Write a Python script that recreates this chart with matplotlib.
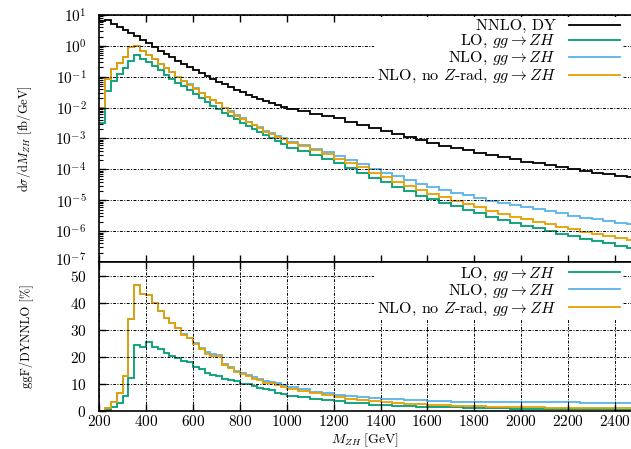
import matplotlib
matplotlib.use('Agg')
import matplotlib.pyplot as plt
import matplotlib.transforms as mtrans
import numpy as np

# bin edges: 25 GeV up to 1 TeV, 50 GeV above
edges_low = [200, 225, 250, 275, 300, 325, 350, 375, 400, 425, 450, 475, 500, 525, 550, 575,
             600, 625, 650, 675, 700, 725, 750, 775, 800, 825, 850, 875, 900, 925, 950, 975, 1000]
edges_high = [1050, 1100, 1150, 1200, 1250, 1300, 1350, 1400, 1450, 1500, 1550, 1600, 1650, 1700,
              1750, 1800, 1850, 1900, 1950, 2000, 2050, 2100, 2150, 2200, 2250, 2300, 2350, 2400,
              2450, 2500]

# dsigma/dM [fb/GeV]
nnlo_dy = [6.5, 7.08, 5.25, 4.17, 3.31, 2.63, 2.09, 1.58, 1.20, 0.933, 0.708, 0.537, 0.427, 0.331,
           0.263, 0.209, 0.166, 0.132, 0.105, 0.0851, 0.0692, 0.0562, 0.0457, 0.0380, 0.0316,
           0.0263, 0.0224, 0.0191, 0.0162, 0.0138, 0.0120, 0.0105,
           8.91e-3, 7.59e-3, 6.31e-3, 5.37e-3, 4.47e-3, 3.55e-3, 2.82e-3, 2.19e-3, 1.74e-3, 1.38e-3,
           1.10e-3, 8.71e-4, 7.08e-4, 5.89e-4, 4.90e-4, 4.17e-4, 3.47e-4, 2.88e-4, 2.45e-4, 2.09e-4,
           1.78e-4, 1.55e-4, 1.35e-4, 1.15e-4, 1.00e-4, 8.71e-5, 7.76e-5, 6.92e-5, 6.17e-5, 5.62e-5]
lo_gg = [0.00325, 0.0354, 0.0735, 0.121, 0.189, 0.323, 0.508, 0.374, 0.306, 0.221, 0.162, 0.114,
         0.0867, 0.0645, 0.0489, 0.0376, 0.0272, 0.0205, 0.0147, 0.0112, 0.00900, 0.00674,
         0.00521, 0.00418, 0.00319, 0.00258, 0.00206, 0.00160, 0.00130, 0.00105, 0.000816, 0.000672,
         4.99e-4, 3.80e-4, 2.84e-4, 2.15e-4, 1.61e-4, 1.07e-4, 7.90e-5, 5.26e-5, 3.83e-5, 2.76e-5,
         1.98e-5, 1.39e-5, 1.06e-5, 8.25e-6, 6.37e-6, 5.00e-6, 3.82e-6, 2.88e-6, 2.33e-6, 1.88e-6,
         1.51e-6, 1.24e-6, 1.01e-6, 8.05e-7, 7.00e-7, 5.66e-7, 4.66e-7, 4.15e-7, 3.39e-7, 2.81e-7]
nlo_gg = [0.00975, 0.085, 0.173, 0.275, 0.424, 0.894, 0.974, 0.684, 0.512, 0.373, 0.262, 0.185,
          0.138, 0.101, 0.0747, 0.0564, 0.0418, 0.0308, 0.0227, 0.0178, 0.0144, 0.00967, 0.00749,
          0.00562, 0.00449, 0.00350, 0.00282, 0.00229, 0.00178, 0.00149, 0.00122, 0.00101,
          7.84e-4, 6.07e-4, 4.54e-4, 3.54e-4, 2.68e-4, 1.99e-4, 1.47e-4, 1.03e-4, 7.83e-5, 5.93e-5,
          4.51e-5, 3.48e-5, 2.69e-5, 2.12e-5, 1.72e-5, 1.46e-5, 1.18e-5, 9.79e-6, 8.33e-6, 7.11e-6,
          6.05e-6, 5.27e-6, 4.46e-6, 3.80e-6, 3.20e-6, 2.70e-6, 2.41e-6, 2.08e-6, 1.85e-6, 1.69e-6]
nlo_norad_gg = [0.00975, 0.085, 0.173, 0.275, 0.424, 0.894, 0.974, 0.684, 0.512, 0.373, 0.262, 0.185,
                0.138, 0.101, 0.0742, 0.0560, 0.0412, 0.0301, 0.0221, 0.0174, 0.0141, 0.00944,
                0.00731, 0.00547, 0.00436, 0.00337, 0.00269, 0.00218, 0.00168, 0.00141, 0.00115,
                0.000945,
                7.31e-4, 5.62e-4, 4.16e-4, 3.22e-4, 2.24e-4, 1.60e-4, 1.18e-4, 7.88e-5, 5.74e-5,
                4.00e-5, 2.97e-5, 2.18e-5, 1.56e-5, 1.24e-5, 9.80e-6, 7.51e-6, 5.90e-6, 4.61e-6,
                3.68e-6, 2.93e-6, 2.40e-6, 2.02e-6, 1.69e-6, 1.38e-6, 1.15e-6, 9.58e-7, 8.15e-7,
                6.92e-7, 6.17e-7, 5.34e-7]

# ratio ggF / DY NNLO [%]
ratio_lo = [0.05, 0.5, 1.4, 2.9, 5.7, 12.3, 24.3, 23.7, 25.5, 23.7, 22.9, 21.3, 20.3, 19.5, 18.6,
            18.0, 16.4, 15.5, 14.0, 13.2, 13.0, 12.0, 11.4, 11.0, 10.1, 9.8, 9.2, 8.4, 8.0, 7.6,
            6.8, 6.4,
            5.6, 5.0, 4.5, 4.0, 3.6, 3.0, 2.8, 2.4, 2.2, 2.0, 1.8, 1.6, 1.5, 1.4, 1.3, 1.2, 1.1,
            1.0, 0.95, 0.9, 0.85, 0.8, 0.75, 0.7, 0.7, 0.65, 0.6, 0.6, 0.55, 0.5]
ratio_nlo = [0.15, 1.2, 3.3, 6.6, 12.8, 34, 46.6, 43.3, 42.7, 40, 37, 34.5, 32.3, 30.5, 28.4, 27.0,
             25.2, 23.3, 21.6, 20.9, 20.8, 17.2, 16.4, 14.8, 14.2, 13.3, 12.6, 12.0, 11.0, 10.8,
             10.2, 9.6,
             8.8, 8.0, 7.2, 6.6, 6.0, 5.6, 5.2, 4.7, 4.5, 4.3, 4.1, 4.0, 3.8, 3.6, 3.5, 3.5, 3.4,
             3.4, 3.4, 3.4, 3.4, 3.4, 3.3, 3.3, 3.2, 3.1, 3.1, 3.0, 3.0, 3.0]
ratio_norad = [0.15, 1.2, 3.3, 6.6, 12.8, 34, 46.6, 43.3, 42.7, 40, 37, 34.5, 32.3, 30.5, 28.2,
               26.8, 24.8, 22.8, 21, 20.4, 20.4, 16.8, 16, 14.4, 13.8, 12.8, 12, 11.4, 10.4, 10.2,
               9.6, 9.0,
               8.2, 7.4, 6.6, 6.0, 5.0, 4.5, 4.2, 3.6, 3.3, 2.9, 2.7, 2.5, 2.2, 2.1, 2.0, 1.8, 1.7,
               1.6, 1.5, 1.4, 1.35, 1.3, 1.25, 1.2, 1.15, 1.1, 1.05, 1.0, 1.0, 0.95]

labels = ['NNLO, DY', r'LO, $gg \rightarrow ZH$', r'NLO, $gg \rightarrow ZH$',
          r'NLO, no $Z$-rad, $gg \rightarrow ZH$']
colors = ['black', '#009E73', '#56B4E9', '#E69F00']

plt.rcParams['font.family'] = 'cmr10'
plt.rcParams['mathtext.fontset'] = 'cm'
plt.rcParams['axes.formatter.use_mathtext'] = True
plt.rcParams['font.size'] = 12

edges = np.array(edges_low + edges_high)
grid_ls = (0, (3, 1.5, 1, 1.5))
leg_kw = dict(loc='upper right', markerfirst=False, frameon=True,
              fancybox=False, edgecolor='none', framealpha=1, fontsize=11.5,
              handlelength=3.2, handletextpad=0.8, labelspacing=0.0, borderpad=0.15,
              borderaxespad=0)

fig = plt.figure(figsize=(6.31, 4.49), dpi=100)
ax1 = fig.add_axes([0.157, 0.4165, 0.843, 0.5501])
ax2 = fig.add_axes([0.157, 0.0846, 0.843, 0.3319])

# upper panel
for vals, lab, col in zip([nnlo_dy, lo_gg, nlo_gg, nlo_norad_gg], labels, colors):
    ax1.stairs(vals, edges, baseline=None, color=col, lw=1.3, label=lab)
ax1.set_yscale('log')
ax1.set_ylim(1e-7, 10)
ax1.set_xlim(200, 2468)
ax1.set_yticks([10.0 ** k for k in range(-7, 2)])
ax1.yaxis.set_minor_locator(matplotlib.ticker.LogLocator(base=10, subs=np.arange(2, 10), numticks=20))
ax1.yaxis.set_minor_formatter(matplotlib.ticker.NullFormatter())
ax1.set_xticks(range(200, 2500, 200))
ax1.tick_params(labelbottom=False)
ax1.grid(True, axis='y', which='major', color='black', lw=0.7, ls=grid_ls)
ax1.set_ylabel(r'd$\sigma$/d$M_{ZH}$ [fb/GeV]', fontsize=9)
ax1.yaxis.set_label_coords(-0.122, 0.5)
ax1.legend(bbox_to_anchor=(0.986, 0.963), bbox_transform=fig.transFigure, **leg_kw)

# lower panel
for vals, lab, col in zip([ratio_lo, ratio_nlo, ratio_norad], labels[1:], colors[1:]):
    ax2.stairs(vals, edges, baseline=None, color=col, lw=1.3, label=lab)
ax2.set_ylim(0, 55)
ax2.set_xlim(200, 2468)
ax2.set_yticks(range(0, 51, 10))
ax2.set_xticks(range(200, 2500, 200))
ax2.grid(True, color='black', lw=0.7, ls=grid_ls)
ax2.set_ylabel('ggF/DYNNLO [%]', fontsize=9)
ax2.yaxis.set_label_coords(-0.122, 0.5)
ax2.set_xlabel(r'$M_{ZH}\;[\mathrm{GeV}]$', va='bottom', fontsize=10)
ax2.xaxis.set_label_coords(0.5, -0.252)
ax2.legend(bbox_to_anchor=(0.986, 0.414), bbox_transform=fig.transFigure, **leg_kw)

for ax in (ax1, ax2):
    ax.set_axisbelow(False)
    ax.spines['right'].set_visible(False)
    for s in ('left', 'top', 'bottom'):
        ax.spines[s].set_linewidth(1.2)
    ax.tick_params(which='both', direction='in', top=True, right=False)
    ax.tick_params(which='major', length=5, width=1)
    ax.tick_params(which='minor', length=3, width=0.8)
    ax.tick_params(axis='y', which='major', pad=9, labelsize=11)
    ax.tick_params(axis='x', which='major', pad=2, labelsize=11)

# lift the 10^-7 label a little so it clears the "50" below it
lab7 = ax1.yaxis.get_major_ticks()[0].label1
lab7.set_transform(lab7.get_transform() + mtrans.ScaledTranslation(0, 0.03, fig.dpi_scale_trans))

fig.savefig('out.png', dpi=100)
